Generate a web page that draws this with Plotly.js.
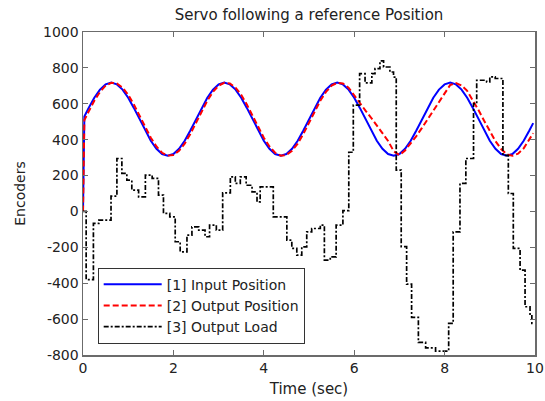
<!DOCTYPE html>
<html>
<head>
<meta charset="utf-8">
<script src="https://cdn.plot.ly/plotly-3.0.1.min.js"></script>
<style>html,body{margin:0;padding:0;background:#fff;}#chart{width:545px;height:401px;}</style>
</head>
<body>
<div id="chart"></div>
<script>
// Shared time grid for the position signals (sec)
var posTime = [0, 0.03, 0.125, 0.25, 0.375, 0.5, 0.625, 0.75, 0.875, 1, 1.125, 1.25, 1.375, 1.5, 1.625, 1.75, 1.875,
  2, 2.125, 2.25, 2.375, 2.5, 2.625, 2.75, 2.875, 3, 3.125, 3.25, 3.375, 3.5, 3.625, 3.75, 3.875,
  4, 4.125, 4.25, 4.375, 4.5, 4.625, 4.75, 4.875, 5, 5.125, 5.25, 5.375, 5.5, 5.625, 5.75, 5.875,
  6, 6.125, 6.25, 6.375, 6.5, 6.625, 6.75, 6.875, 7, 7.125, 7.25, 7.375, 7.5, 7.625, 7.75, 7.875,
  8, 8.125, 8.25, 8.375, 8.5, 8.625, 8.75, 8.875, 9, 9.125, 9.25, 9.375, 9.5, 9.625, 9.75, 9.875, 9.96];

// [1] Input Position (encoders)
var inputPosition = [0,
  529, 577, 634, 679, 708, 718, 708, 679, 634, 577, 514, 451, 394, 349, 320, 310, 320, 349, 394, 451,
  514, 577, 634, 679, 708, 718, 708, 679, 634, 577, 514, 451, 394, 349, 320, 310, 320, 349, 394, 451,
  514, 577, 634, 679, 708, 718, 708, 679, 634, 577, 514, 451, 394, 349, 320, 310, 320, 349, 394, 451,
  514, 577, 634, 679, 708, 718, 708, 679, 634, 577, 514, 451, 394, 349, 320, 310, 320, 349, 394, 451,
  492];

// [2] Output Position (encoders)
var outputPosition = [0,
  509, 557, 617, 666, 701, 717, 713, 690, 650, 596, 534, 471, 411, 362, 327, 311, 315, 338, 378, 432,
  494, 557, 617, 666, 701, 717, 713, 690, 650, 596, 534, 471, 411, 362, 327, 311, 315, 338, 378, 432,
  494, 557, 617, 666, 701, 717, 713, 690,
  645, 602, 562, 522, 480, 437, 393, 335, 314, 340, 378, 420, 466, 513, 560, 608,
  655, 705, 715, 702, 672, 622, 565, 505, 448, 392, 348, 318, 310, 322, 352, 398, 436];

// [3] Output Load (stair steps: value held from each time)
var loadTime = [0, 0.07, 0.23, 0.35, 0.62, 0.75, 0.86, 0.97, 1.08, 1.23, 1.38, 1.53, 1.67, 1.78, 1.92,
  2.04, 2.15, 2.30, 2.41, 2.56, 2.70, 2.80, 2.95, 3.09, 3.26, 3.37, 3.48, 3.61, 3.74, 3.85, 3.92,
  4.21, 4.51, 4.62, 4.73, 4.84, 4.95, 5.06, 5.25, 5.34, 5.47, 5.60, 5.75, 5.88, 5.98,
  6.12, 6.24, 6.39, 6.46, 6.57, 6.65, 6.79, 6.87, 6.93, 7.04, 7.16, 7.27, 7.42, 7.58, 7.80,
  8.09, 8.19, 8.34, 8.47, 8.64, 8.71, 8.93, 9.00, 9.12, 9.29, 9.41, 9.52, 9.67, 9.78, 9.89, 9.93, 9.97];
var loadValue = [0, -380, -67, -48, 85, 295, 212, 174, 119, 81, 202, 184, 91, -11, -30,
  -169, -225, -132, -86, -104, -141, -76, -104, 104, 193, 156, 193, 146, 109, 53, 137,
  -30, -160, -206, -243, -197, -114, -95, -76, -271, -253, -76, 5, 330, 592,
  768, 716, 768, 796, 839, 805, 777, 749, 230, -196, -405, -590, -730, -760, -778,
  -624, -114, 156, 295, 601, 731, 722, 750, 741, 313, 100, -206, -327, -531, -577, -624, -624];

var traceNames = ['[1] Input Position', '[2] Output Position', '[3] Output Load'];
var xTicks = [0, 2, 4, 6, 8, 10];
var yTicks = [-800, -600, -400, -200, 0, 200, 400, 600, 800, 1000];

var FONT = 'DejaVu Sans, Liberation Sans, Arial, sans-serif';

var data = [
  {x: posTime, y: inputPosition, name: traceNames[0], type: 'scatter', mode: 'lines',
   line: {color: '#0000ff', width: 2}},
  {x: posTime, y: outputPosition, name: traceNames[1], type: 'scatter', mode: 'lines',
   line: {color: '#ff0000', width: 2, dash: '6px,3px'}},
  {x: loadTime, y: loadValue, name: traceNames[2], type: 'scatter', mode: 'lines',
   line: {color: '#000000', width: 1.7, dash: '5px,2px,2px,2px', shape: 'hv'}}
];

var axisCommon = {
  showline: true, linecolor: '#6b6b6b', linewidth: 1.5, mirror: 'ticks',
  ticks: 'inside', ticklen: 5, tickcolor: '#6b6b6b', tickwidth: 1,
  showgrid: false, zeroline: false,
  tickfont: {family: FONT, size: 14, color: '#222'}
};

var layout = {
  width: 545, height: 401,
  margin: {l: 83, r: 10, t: 32, b: 46},
  paper_bgcolor: '#fff', plot_bgcolor: '#fff',
  title: {text: 'Servo following a reference Position', x: 0.567, xanchor: 'center', y: 0.962, yanchor: 'middle',
          font: {family: FONT, size: 15, color: '#222'}},
  xaxis: Object.assign({}, axisCommon, {range: [0, 10], tickvals: xTicks, ticktext: xTicks.map(String),
          title: {text: 'Time (sec)', standoff: 8, font: {family: FONT, size: 15, color: '#222'}}}),
  yaxis: Object.assign({}, axisCommon, {range: [-800, 1000], tickvals: yTicks, ticktext: yTicks.map(String),
          title: {text: 'Encoders', standoff: 14, font: {family: FONT, size: 14, color: '#222'}}}),
  showlegend: true,
  legend: {x: 0.0325, y: 0.035, xanchor: 'left', yanchor: 'bottom',
           bgcolor: '#fff', bordercolor: '#333', borderwidth: 1,
           font: {family: FONT, size: 14, color: '#222'},
           itemwidth: 58, tracegroupgap: 0}
};

Plotly.newPlot('chart', data, layout, {displayModeBar: false, staticPlot: true});
</script>
</body>
</html>
